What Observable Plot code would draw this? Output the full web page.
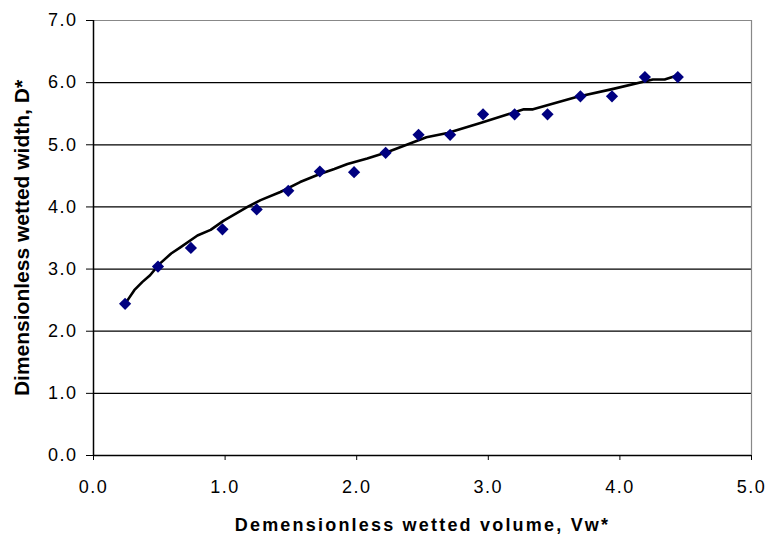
<!DOCTYPE html>
<html>
<head>
<meta charset="utf-8">
<script src="https://cdn.jsdelivr.net/npm/d3@7"></script>
<script src="https://cdn.jsdelivr.net/npm/@observablehq/plot@0.6"></script>
<style>
  html, body { margin: 0; padding: 0; background: #fff; }
  svg { font-family: "Liberation Sans", Arial, sans-serif; }
  .ticklabels text { letter-spacing: 1.5px; }
  .xtitle text { letter-spacing: 2.2px; }
</style>
</head>
<body>
<div id="chart"></div>
<script>
// Measured points
const volume = [0.24, 0.49, 0.74, 0.98, 1.24, 1.48, 1.72, 1.98, 2.22, 2.47, 2.71, 2.96, 3.20, 3.45, 3.70, 3.94, 4.19, 4.44];
const width  = [2.44, 3.04, 3.34, 3.64, 3.96, 4.26, 4.57, 4.56, 4.87, 5.16, 5.16, 5.49, 5.49, 5.49, 5.78, 5.78, 6.09, 6.09];

// Fitted curve
const curveX = [0.24, 0.31, 0.37, 0.43, 0.50, 0.59, 0.66, 0.79, 0.89, 0.99, 1.17, 1.27, 1.42, 1.57, 1.72, 1.83, 1.93, 2.08, 2.23, 2.38, 2.53, 2.69, 2.94, 3.27, 3.34, 3.67, 3.95, 4.25, 4.34, 4.44];
const curveY = [2.44, 2.66, 2.79, 2.90, 3.08, 3.25, 3.35, 3.54, 3.63, 3.78, 4.00, 4.11, 4.24, 4.40, 4.53, 4.61, 4.69, 4.78, 4.88, 5.00, 5.12, 5.19, 5.35, 5.57, 5.57, 5.77, 5.90, 6.05, 6.05, 6.12];

const xTicks = [0, 1, 2, 3, 4, 5];
const yTicks = [0, 1, 2, 3, 4, 5, 6, 7];
const gridY = [1, 2, 3, 4, 5, 6];

const xTitle = "Demensionless wetted volume, Vw*";
const yTitle = "Dimensionless wetted width, D*";

const points = volume.map((v, i) => ({x: v, y: width[i]}));
const curve = curveX.map((v, i) => ({x: v, y: curveY[i]}));

const chart = Plot.plot({
  width: 769,
  height: 539,
  marginLeft: 93,
  marginTop: 20,
  marginRight: 18,
  marginBottom: 84,
  style: {fontFamily: "'Liberation Sans', Arial, sans-serif", background: "#fff"},
  x: {domain: [0, 5]},
  y: {domain: [0, 7]},
  marks: [
    Plot.ruleY(gridY, {stroke: "#000", strokeWidth: 1.2}),
    Plot.ruleY([7], {stroke: "#888", strokeWidth: 1.2}),
    Plot.ruleX([5], {stroke: "#888", strokeWidth: 1.2}),
    Plot.ruleY([0], {stroke: "#000", strokeWidth: 1.5}),
    Plot.ruleX([0], {stroke: "#000", strokeWidth: 1.5}),
    Plot.axisX({ticks: xTicks, tickFormat: d3.format(".1f"), tickSize: 5, tickPadding: 20, fontSize: 18, label: null, stroke: "#000", color: "#000", className: "ticklabels"}),
    Plot.axisY({ticks: yTicks, tickFormat: d3.format(".1f"), tickSize: 7, tickPadding: 9, fontSize: 18, label: null, stroke: "#000", color: "#000", className: "ticklabels"}),
    Plot.line(curve, {x: "x", y: "y", stroke: "#000", strokeWidth: 2.6}),
    Plot.dot(points, {x: "x", y: "y", symbol: "diamond2", r: 5.5, fill: "#000080", stroke: "none"}),
    Plot.text([xTitle], {frameAnchor: "bottom", textAnchor: "middle", dy: 75, fontSize: 18, fontWeight: "bold", fill: "#000", className: "xtitle"}),
    Plot.text([yTitle], {frameAnchor: "left", textAnchor: "middle", dx: -71, dy: 0, rotate: -90, fontSize: 21, fontWeight: "bold", fill: "#000"})
  ]
});
document.getElementById("chart").appendChild(chart);
</script>
</body>
</html>
